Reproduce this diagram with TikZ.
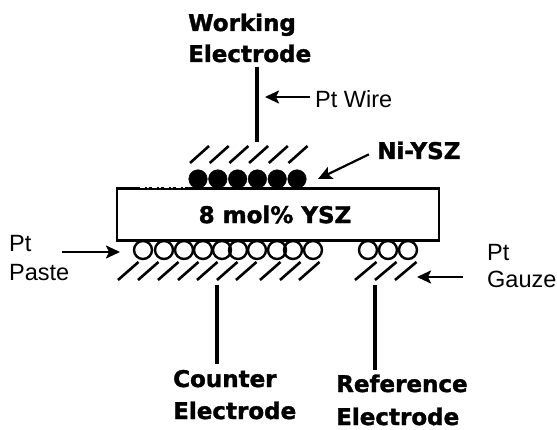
\documentclass[tikz,border=0pt]{standalone}
\usepackage{fontspec}
\setmainfont{Liberation Sans}
\newfontfamily\heavyfont[BoldFeatures={FakeBold=1.5}]{DejaVu Sans}
\usetikzlibrary{arrows.meta}
\tikzset{
	boldlabel/.style={font=\heavyfont\bfseries\fontsize{23}{30}\selectfont, inner sep=0, anchor=base west, align=left},
	plainlabel/.style={font=\fontsize{23.5}{28}\selectfont, inner sep=0, anchor=base west, align=left},
	wire/.style={line width=3.3pt},
	hatch/.style={line width=2.6pt},
	pointer/.style={line width=2.2pt, -{Stealth[length=14pt, width=13pt, inset=3pt]}}
}

\begin{document}
\begin{tikzpicture}[x=1pt, y=-1pt]
	\useasboundingbox (0, 0) rectangle (557, 430);

	% electrolyte
	\node[draw, line width=2.6pt, minimum width=322pt, minimum height=52pt, font=\heavyfont\bfseries\fontsize{23}{30}\selectfont] (ysz) at (278, 214.5) {\raisebox{-6.5pt}{\hspace*{-6pt}8 mol\% YSZ}};
	\draw[white, line width=1.3pt, dash pattern=on 5pt off 2pt on 2pt off 3pt] (140, 187.6) -- (188, 187.6);

	% working side
	\foreach \x in {198, 217.8, 237.6, 257.4, 277.2, 297}
		\draw[fill=black] (\x, 179) circle (9.3);
	\foreach \x in {190, 209.7, 229.4, 249.1, 268.8, 288.5}
		\draw[hatch] (\x, 163) -- (\x+19, 146);

	% counter side
	\foreach \x in {143, 164, 184, 203, 222, 238, 257, 277, 293, 313}
		\draw[line width=2.4pt] (\x, 250) circle (9);
	\foreach \x in {118, 138, 158, 178, 197, 217, 236, 260, 280, 299}
		\draw[hatch] (\x, 280) -- (\x+20.5, 262);

	% reference side
	\foreach \x in {368, 388, 408}
		\draw[line width=2.4pt] (\x, 250) circle (9);
	\foreach \x in {355, 375, 395}
		\draw[hatch] (\x, 280) -- (\x+21.5, 262);

	\node[boldlabel] (working) at (188, 62) {Working\\[1pt]Electrode};
	\node[boldlabel] (counter) at (173, 419) {Counter\\[2pt]Electrode};
	\node[boldlabel] (reference) at (336, 425) {Reference\\[3pt]Electrode};
	\node[boldlabel] (nilabel) at (377, 159) {Ni-YSZ};
	\node[plainlabel] (ptwire) at (315, 108) {Pt Wire};
	\node[plainlabel] (ptpaste) at (9, 281) {Pt\\[1pt]Paste};
	\node[plainlabel] (ptgauze) at (487, 288) {Pt\\[-1pt]Gauze};

	\coordinate (wetip) at (257, 142);
	\coordinate (cetop) at (217, 285);
	\coordinate (retop) at (375, 285);
	\coordinate (wiretip) at (265, 97);
	\coordinate (nitip) at (318, 179);
	\coordinate (pastetip) at (120, 252);
	\coordinate (gauzetip) at (417, 277);

	\draw[wire, shorten <=4pt] (working.south -| wetip) -- (wetip);
	\draw[wire, shorten >=6pt] (cetop) -- (counter.north -| cetop);
	\draw[wire, shorten >=4pt] (retop) -- (reference.north -| retop);

	\draw[pointer, shorten <=5pt] (ptwire.west |- wiretip) -- (wiretip);
	\draw[pointer, shorten <=9pt] (nilabel.west) -- (nitip);
	\draw[pointer, shorten <=-7pt] (ptpaste.east |- pastetip) -- (pastetip);
	\draw[pointer, shorten <=24pt] (ptgauze.west |- gauzetip) -- (gauzetip);
\end{tikzpicture}
\end{document}
